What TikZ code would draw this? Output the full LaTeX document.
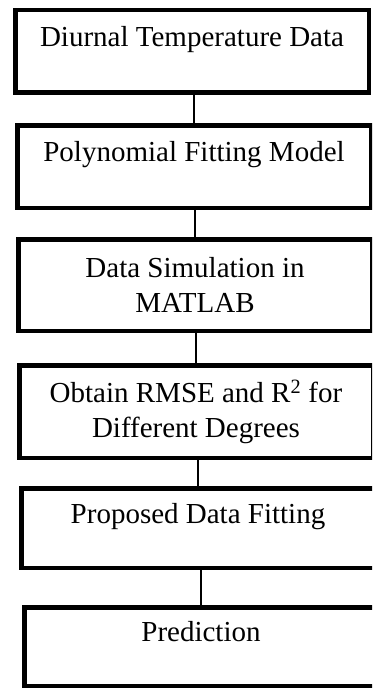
\documentclass[tikz,border=0pt]{standalone}
\usepackage{fontspec}
\setmainfont{Liberation Serif}
\tikzset{
	stage/.style = {
		draw,
		rectangle,
		line width=4.5pt,
		minimum width=353.5pt,
		inner sep=0pt,
		align=center,
		font=\fontsize{29}{35}\selectfont
	},
	oneline/.style = {
		text height=20pt,
		text depth=30pt
	},
	link/.style = {
		line width=1.2pt,
		black
	}
}

\begin{document}
\begin{tikzpicture}[x=1pt,y=-1pt]
\useasboundingbox (0,0) rectangle (372,690);
\clip (0,0) rectangle (372,690);
\node[stage, oneline, minimum height=82.5pt] (data) at (192,51.5) {Diurnal Temperature Data};
\node[stage, oneline, minimum height=82.5pt] (model) at (194,166.5) {Polynomial Fitting Model};
\node[stage, minimum height=91.5pt] (matlab) at (195,285) {Data Simulation in\\MATLAB};
\node[stage, minimum height=92.5pt] (rmse) at (196,411.5) {Obtain RMSE and R\textsuperscript{2} for\\Different Degrees};
\node[stage, oneline, minimum height=79.5pt] (fitting) at (198,528) {Proposed Data Fitting};
\node[stage, oneline, minimum height=78.5pt] (predict) at (201,646.5) {Prediction};

\draw[link] (model.north) -- (model.north |- data.south);
\draw[link] (matlab.north) -- (matlab.north |- model.south);
\draw[link] (rmse.north) -- (rmse.north |- matlab.south);
\draw[link] (fitting.north) -- (fitting.north |- rmse.south);
\draw[link] (predict.north) -- (predict.north |- fitting.south);
\end{tikzpicture}
\end{document}
